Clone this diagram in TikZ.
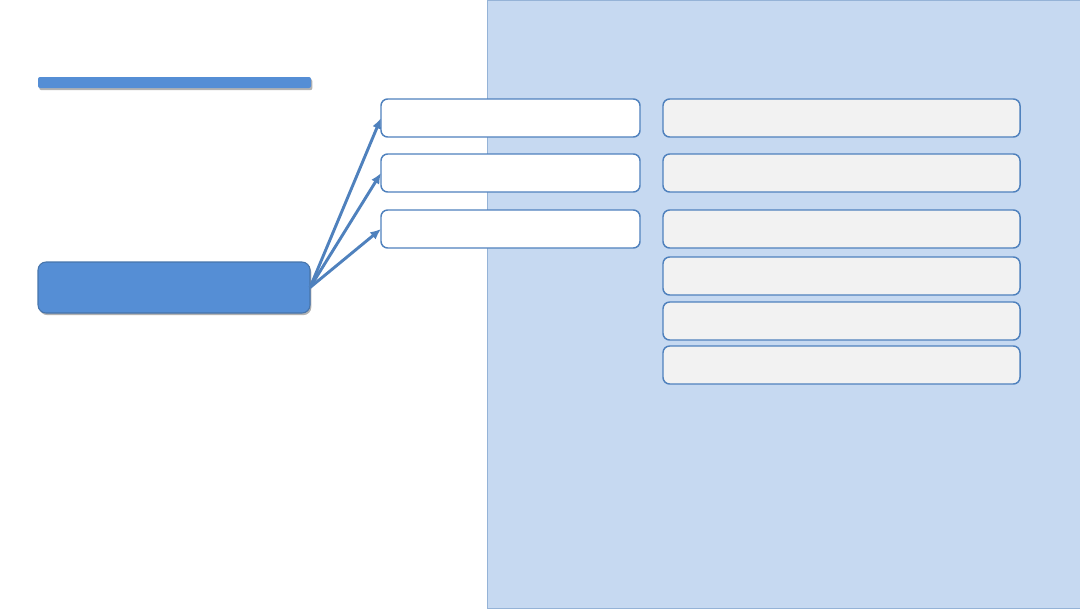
\documentclass[tikz,border=0pt]{standalone}
\usepackage{xcolor}
\usepackage{tikz}
\usetikzlibrary{arrows.meta, positioning, shadows}
\definecolor{panel}{RGB}{198, 217, 241}
\definecolor{primary}{RGB}{85, 142, 213}
\definecolor{edge}{RGB}{79, 129, 189}
\definecolor{lightgray}{RGB}{242, 242, 242}

\begin{document}
\begin{tikzpicture}[
  x=0.75pt, y=-0.75pt,
  every node/.style = {inner sep=0pt, outer sep=0pt},
  shd/.style = {drop shadow={shadow xshift=1pt, shadow yshift=-1.6pt, opacity=0.3, fill=black}},
  bar/.style = {
    rectangle, rounded corners=1.5pt,
    fill=primary, shd,
    minimum width=204.75pt, minimum height=8.25pt
  },
  src/.style = {
    rectangle, rounded corners=6pt,
    draw=edge!90!black, fill=primary, line width=0.8pt, shd,
    minimum width=204pt, minimum height=38.25pt
  },
  blk/.style = {
    rectangle, rounded corners=5pt,
    draw=edge, fill=#1, line width=1.1pt,
    minimum height=28.5pt
  },
  arr/.style = {-{Latex[length=8pt, width=7pt]}, line width=2.2pt, draw=edge}
]
\useasboundingbox (0,0) rectangle (1080,608);

% ---- BACKGROUND PANEL ----
\node[rectangle, fill=panel, draw=edge!60, line width=0.6pt,
  minimum width=444.75pt, minimum height=456pt] (pnl) at (783.5,304) {};

% ---- LEFT COLUMN ----
\node[bar] (head) at (174.5,82.5) {};
\node[src] (main) at (174,287.5) {};

% ---- MIDDLE COLUMN (y = 118, 173, 229) ----
\node[blk=white, minimum width=194.25pt] (m1) at (510.5,118) {};
\node[blk=white, minimum width=194.25pt] (m2) at (510.5,173) {};
\node[blk=white, minimum width=194.25pt] (m3) at (510.5,229) {};

% ---- RIGHT COLUMN ----
\foreach \y [count=\i] in {118, 173, 229, 276, 321, 365}
  \node[blk=lightgray, minimum width=267.75pt] (r\i) at (841.5,\y) {};

% ---- ARROWS: main -> middle boxes ----
\draw[arr] (main.east) -- (m1.west);
\draw[arr] (main.east) -- (m2.west);
\draw[arr] (main.east) -- (m3.west);

\end{tikzpicture}
\end{document}
